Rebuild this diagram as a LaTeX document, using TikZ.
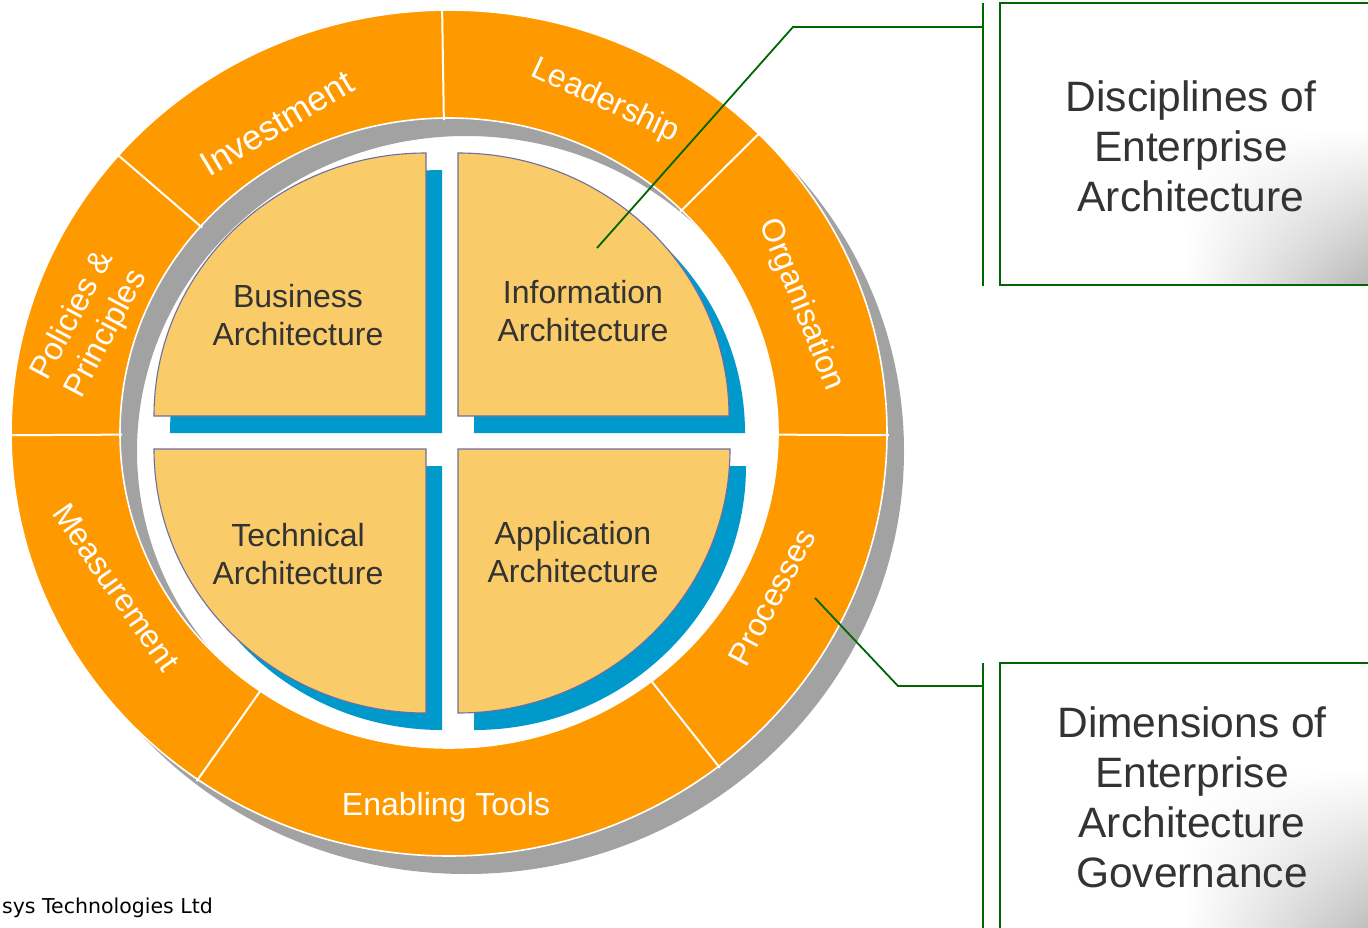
\documentclass[tikz,border=0pt]{standalone}
\usepackage{fontspec}
\setmainfont{Liberation Sans}
\newfontfamily\vfont{DejaVu Sans}
\usetikzlibrary{calc,shadings}
\definecolor{ringorange}{HTML}{FF9900}
\definecolor{shadowgray}{HTML}{A2A2A2}
\definecolor{quadblue}{HTML}{0099CC}
\definecolor{quadyellow}{HTML}{F9CB69}
\definecolor{quadline}{HTML}{6E6EA0}
\definecolor{linegreen}{HTML}{006600}
\definecolor{textgray}{HTML}{333333}
\begin{document}
\begin{tikzpicture}[x=1pt,y=1pt,
  ringtext/.style={text=white,font=\fontsize{32}{38}\selectfont,inner sep=0pt,align=center},
  quadtext/.style={text=textgray,font=\fontsize{32}{38}\selectfont,inner sep=0pt,align=center},
  boxtext/.style={text=textgray,font=\fontsize{42.5}{50}\selectfont,inner sep=0pt,align=center},
  quadfill/.style={fill=quadyellow,draw=quadline,line width=1.1pt},
  blueshadow/.style={fill=quadblue},
  greenline/.style={draw=linegreen,line width=1.8pt},
  boxline/.style={draw=linegreen,line width=2.4pt}]
\useasboundingbox (0,0) rectangle (1368,-928);
\fill[white] (0,0) rectangle (1368,-928);

% ring shadow
\begin{scope}[shift={(466,-451)}]
  \fill[shadowgray,even odd rule] (0,0) ellipse[x radius=438pt,y radius=423pt]
        (0,0) ellipse[x radius=329pt,y radius=315pt];
\end{scope}

% orange ring
\begin{scope}[shift={(449,-433)}]
  \path[fill=ringorange,draw=white,line width=1.6pt,even odd rule]
        (0,0) ellipse[x radius=438pt,y radius=423pt]
        (0,0) ellipse[x radius=329pt,y radius=315pt];
  \foreach \a in {-0.3,45,90.9,139,180.3,235,308}
    \draw[white,line width=2pt] (\a:327pt and 313pt) -- (\a:440pt and 425pt);
\end{scope}

% ring labels
\node[ringtext,rotate=31,font=\fontsize{35}{40}\selectfont] (inv) at (277,-123) {Investment};
\node[ringtext,rotate=-25] (lead) at (605,-101) {Leadership};
\node[ringtext,rotate=-68] (org) at (801,-305) {Organisation};
\node[ringtext,rotate=62] (proc) at (772,-597) {Processes};
\node[ringtext,rotate=-55] (meas) at (116,-587) {Measurement};
\node[ringtext,rotate=62] (pol) at (90,-325) {Policies \&\\Principles};
\node[ringtext] (ena) at (446,-807) {Enabling Tools};

% blue shadows
\begin{scope}[shift={(16,-17)}]
  \fill[blueshadow] (426,-416) -- (154,-416) arc[start angle=180,end angle=90,x radius=272pt,y radius=263pt] -- cycle;
  \fill[blueshadow] (458,-416) -- (458,-153) arc[start angle=90,end angle=0,x radius=271pt,y radius=263pt] -- cycle;
  \fill[blueshadow] (426,-449) -- (154,-449) arc[start angle=180,end angle=270,x radius=272pt,y radius=264pt] -- cycle;
  \fill[blueshadow] (458,-449) -- (730,-449) arc[start angle=0,end angle=-90,x radius=272pt,y radius=264pt] -- cycle;
\end{scope}

% yellow quadrants
\path[quadfill] (426,-416) -- (154,-416) arc[start angle=180,end angle=90,x radius=272pt,y radius=263pt] -- cycle;
\path[quadfill] (458,-416) -- (458,-153) arc[start angle=90,end angle=0,x radius=271pt,y radius=263pt] -- cycle;
\path[quadfill] (426,-449) -- (154,-449) arc[start angle=180,end angle=270,x radius=272pt,y radius=264pt] -- cycle;
\path[quadfill] (458,-449) -- (730,-449) arc[start angle=0,end angle=-90,x radius=272pt,y radius=264pt] -- cycle;

\node[quadtext] (ba) at (298,-315) {Business\\Architecture};
\node[quadtext] (ia) at (583,-311) {Information\\Architecture};
\node[quadtext] (ta) at (298,-554) {Technical\\Architecture};
\node[quadtext] (aa) at (573,-552) {Application\\Architecture};

% boxes
\fill[white] (1000,-3) rectangle (1370,-285);
\shade[upper left=white,upper right=white,lower left=white,lower right=gray!55] (1185,-130) rectangle (1368,-284);
\draw[boxline] (1372,-3) -- (1000,-3) -- (1000,-285) -- (1372,-285);
\node[boxtext] (t1) at (1191,-146) {Disciplines of\\Enterprise\\Architecture};

\fill[white] (1000,-663) rectangle (1370,-930);
\shade[upper left=white,upper right=white,lower left=white,lower right=gray!50] (1185,-770) rectangle (1368,-928);
\draw[boxline] (1372,-663) -- (1000,-663) -- (1000,-932);
\node[boxtext] (t2) at (1192,-797) {Dimensions of\\Enterprise\\Architecture\\Governance};

% brackets and connectors
\coordinate (b1top) at (983,-3);
\coordinate (b1bot) at (983,-286);
\coordinate (b2top) at (983,-663);
\coordinate (b2bot) at (983,-932);
\draw[greenline] (b1top) -- (b1bot);
\draw[greenline] (b2top) -- (b2bot);
\coordinate (p1) at (597,-248);
\coordinate (k1) at (793,-27);
\coordinate (j1) at (983,-27);
\draw[greenline] (p1) -- (k1) -- (j1);
\coordinate (p2) at (815,-598);
\coordinate (k2) at (898,-686);
\coordinate (j2) at (983,-686);
\draw[greenline] (p2) -- (k2) -- (j2);

% copyright
\node[font=\vfont\fontsize{20.5}{24}\selectfont,anchor=base east,inner sep=0pt] (copy) at (213,-913) {sys Technologies Ltd};
\end{tikzpicture}
\end{document}
